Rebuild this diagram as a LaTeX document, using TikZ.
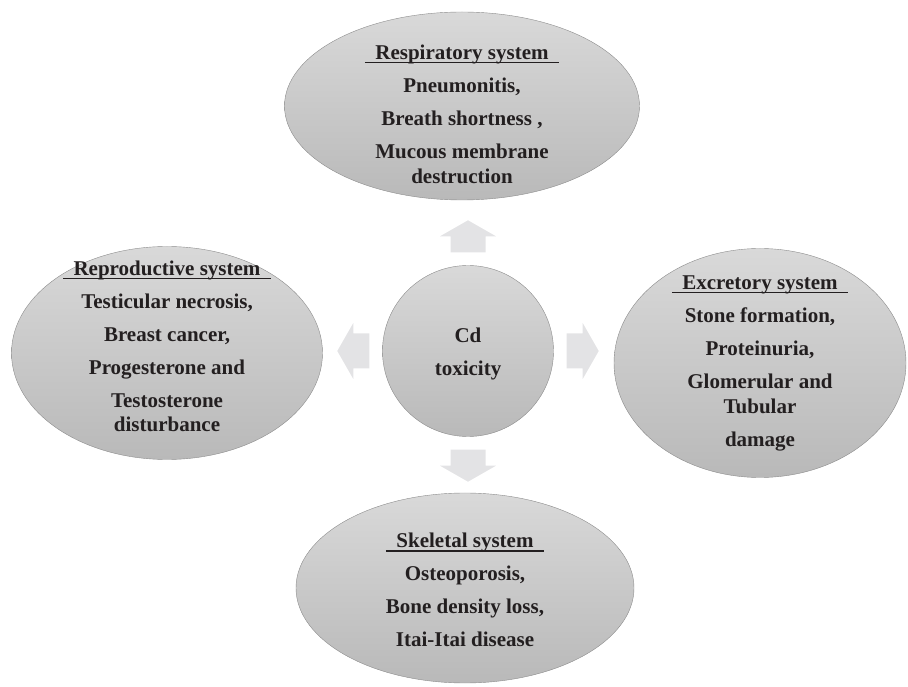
\documentclass[tikz,border=0pt]{standalone}
\usepackage{fontspec}
\setmainfont{Liberation Serif}
\usetikzlibrary{shapes.geometric}
\definecolor{txt}{HTML}{231F20}
\definecolor{rim}{HTML}{8C8C8C}
\definecolor{arr}{HTML}{E3E3E5}
\newcommand{\hd}[1]{\setbox0\hbox{\enspace#1\enspace}\rlap{\rule[-4pt]{\wd0}{1.2pt}}\box0}

\begin{document}
\begin{tikzpicture}[x=1pt, y=1pt,
        organ/.style={ellipse, draw=rim, thin, top color=gray!30, bottom color=gray!55, inner sep=0pt},
        organtext/.style={text=txt, align=center, inner sep=0pt, font=\bfseries\fontsize{21}{33}\selectfont}]
        \useasboundingbox (0, 0) rectangle (908, 686);

        \node[organ, minimum width=355, minimum height=188, label={[organtext, yshift=-8]center:{\hd{Respiratory system}\\ Pneumonitis,\\ Breath shortness ,\\ Mucous membrane\\[-8pt] destruction}}] (resp) at (462, 580) {};
        \node[organ, minimum width=311, minimum height=213, label={[organtext, yshift=7]center:{\hd{Reproductive system}\\ Testicular necrosis,\\ Breast cancer,\\ Progesterone and\\ Testosterone\\[-9pt] disturbance}}] (repro) at (167, 333) {};
        \node[organ, minimum width=292, minimum height=229, label={[organtext]center:{\hd{Excretory system}\\ Stone formation,\\ Proteinuria,\\ Glomerular and\\[-8pt] Tubular\\ damage}}] (excr) at (760, 323) {};
        \node[organ, minimum width=338, minimum height=190, label={[organtext, yshift=-2]center:{\hd{Skeletal system}\\ Osteoporosis,\\ Bone density loss,\\ Itai-Itai disease}}] (skel) at (465, 98) {};
        \node[organ, circle, minimum size=171, label={[organtext, yshift=-3]center:{Cd\\ toxicity}}] (cd) at (468, 335) {};

        \foreach \d/\a in {north/90, east/0, west/180, south/270}
            \fill[arr, shift={(cd.\d)}, shift={(\a:13)}, rotate=\a] (0, -17.5) -- (16, -17.5) -- (16, -28) -- (32, 0) -- (16, 28) -- (16, 17.5) -- (0, 17.5) -- cycle;
    \end{tikzpicture}
\end{document}
